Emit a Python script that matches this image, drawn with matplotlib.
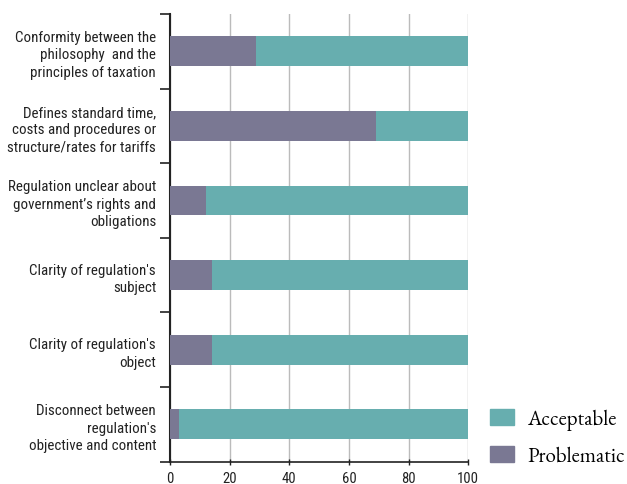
import matplotlib
matplotlib.use("Agg")
import matplotlib.pyplot as plt
from matplotlib.patches import Patch
import numpy as np

categories = [
    "Conformity between the\nphilosophy  and the\nprinciples of taxation",
    "Defines standard time,\ncosts and procedures or\nstructure/rates for tariffs",
    "Regulation unclear about\ngovernment\u2019s rights and\nobligations",
    "Clarity of regulation's\nsubject",
    "Clarity of regulation's\nobject",
    "Disconnect between\nregulation's\nobjective and content",
]
problematic = [29, 69, 12, 14, 14, 3]
acceptable = [71, 31, 88, 86, 86, 97]
xticks = [0, 20, 40, 60, 80, 100]

teal = "#67aeaf"
purple = "#7a7893"

fig = plt.figure(figsize=(6.27, 4.85), dpi=100)
ax = fig.add_axes([0.2711, 0.046, 0.4758, 0.923])

n = len(categories)
y = np.arange(n)
ax.barh(y, problematic, height=0.4, color=purple, zorder=3)
ax.barh(y, acceptable, left=problematic, height=0.4, color=teal, zorder=3)

ax.set_ylim(n - 0.5, -0.5)
ax.set_xlim(0, 100)
ax.set_xticks(xticks)
ax.set_xticklabels([str(t) for t in xticks])

labfont = ["Roboto Condensed", "DejaVu Sans"]
ax.set_yticks(y)
ax.set_yticklabels(categories, fontsize=10.8, family=labfont, ha="right",
                   color="#222222", linespacing=1.3)
ax.set_yticks(np.arange(-0.5, n + 0.5, 1), minor=True)
ax.tick_params(axis="y", which="major", length=0, pad=10)
ax.tick_params(axis="y", which="minor", length=7, width=1.2, color="#222222", direction="out")
ax.tick_params(axis="x", length=5, width=1, color="#222222", direction="inout", pad=4)
for lab in ax.get_xticklabels():
    lab.set_family(labfont)
    lab.set_fontsize(10.5)
    lab.set_color("#222222")

ax.grid(axis="x", color="#bbbbbb", linewidth=1, zorder=0)
for s in ["top", "right"]:
    ax.spines[s].set_visible(False)
ax.spines["left"].set_color("#222222")
ax.spines["left"].set_linewidth(1.5)
ax.spines["bottom"].set_color("#222222")
ax.spines["bottom"].set_linewidth(1.2)

handles = [Patch(color=teal, label="Acceptable"), Patch(color=purple, label="Problematic")]
fig.legend(handles=handles, loc="lower left", bbox_to_anchor=(0.7685, 0.018),
           frameon=False, prop={"family": ["EB Garamond", "Liberation Serif"], "size": 15},
           handlelength=1.15, handleheight=0.8, handletextpad=0.62, labelspacing=0.75,
           borderaxespad=0)

fig.savefig("out.png", dpi=100)
